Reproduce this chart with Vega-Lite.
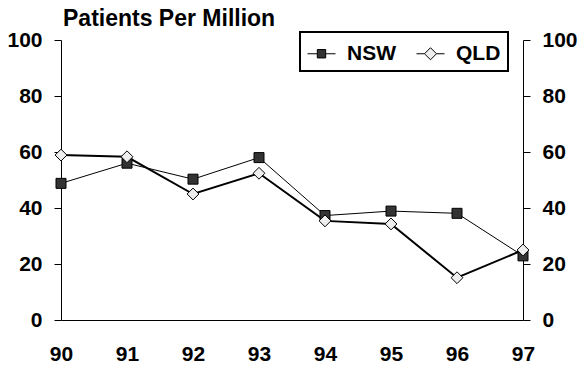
{
  "$schema": "https://vega.github.io/schema/vega-lite/v6.json",
  "width": 462,
  "height": 280,
  "autosize": "none",
  "padding": {"left": 61, "top": 40, "right": 57, "bottom": 47},
  "background": "white",
  "title": {"text": "Patients Per Million", "anchor": "start", "frame": "group", "dx": 2, "offset": -2, "fontSize": 23, "font": "Liberation Sans", "fontWeight": "bold", "color": "black"},
  "config": {
    "view": {"stroke": null},
    "axis": {"domainColor": "black", "tickColor": "black", "labelColor": "black", "labelFont": "Liberation Sans", "labelFontWeight": "bold", "labelFontSize": 21, "grid": false, "title": null, "domainWidth": 1, "tickWidth": 1, "labelFlush": false, "labelOverlap": false}
  },
  "data": {"values": [
    {"year": 90, "series": "NSW", "value": 48.8},
    {"year": 91, "series": "NSW", "value": 56},
    {"year": 92, "series": "NSW", "value": 50.3},
    {"year": 93, "series": "NSW", "value": 58},
    {"year": 94, "series": "NSW", "value": 37.3},
    {"year": 95, "series": "NSW", "value": 38.9},
    {"year": 96, "series": "NSW", "value": 38.1},
    {"year": 97, "series": "NSW", "value": 22.9},
    {"year": 90, "series": "QLD", "value": 58.9},
    {"year": 91, "series": "QLD", "value": 58.3},
    {"year": 92, "series": "QLD", "value": 45},
    {"year": 93, "series": "QLD", "value": 52.4},
    {"year": 94, "series": "QLD", "value": 35.4},
    {"year": 95, "series": "QLD", "value": 34.3},
    {"year": 96, "series": "QLD", "value": 15.1},
    {"year": 97, "series": "QLD", "value": 25}
  ]},
  "layer": [
    {
      "transform": [{"filter": "datum.series === 'NSW'"}],
      "mark": {"type": "line", "color": "black", "strokeWidth": 1},
      "encoding": {
        "x": {"field": "year", "type": "quantitative", "scale": {"domain": [90, 97], "nice": false, "zero": false},
              "axis": {"values": [90, 91, 92, 93, 94, 95, 96, 97], "format": "d", "ticks": false, "labelPadding": 23}},
        "y": {"field": "value", "type": "quantitative", "scale": {"domain": [0, 100], "nice": false},
              "axis": {"orient": "left", "values": [0, 20, 40, 60, 80, 100], "tickSize": 7, "labelPadding": 12}}
      }
    },
    {
      "transform": [{"filter": "datum.series === 'QLD'"}],
      "mark": {"type": "line", "color": "black", "strokeWidth": 2},
      "encoding": {
        "x": {"field": "year", "type": "quantitative"},
        "y": {"field": "value", "type": "quantitative", "axis": null}
      }
    },
    {
      "transform": [{"filter": "datum.series === 'NSW'"}],
      "mark": {"type": "point", "filled": true, "shape": "square", "size": 100, "stroke": "black", "strokeWidth": 1, "opacity": 1},
      "encoding": {
        "x": {"field": "year", "type": "quantitative"},
        "y": {"field": "value", "type": "quantitative",
              "axis": {"orient": "right", "values": [0, 20, 40, 60, 80, 100], "tickSize": 7, "labelPadding": 12}},
        "fill": {"field": "series", "type": "nominal", "scale": {"domain": ["NSW", "QLD"], "range": ["#333333", "#eeeeee"]},
          "legend": {"orient": "none", "legendX": 239, "legendY": -8, "direction": "horizontal", "title": null,
            "strokeColor": "black", "padding": 7, "symbolSize": 784, "labelFontSize": 21, "labelFont": "Liberation Sans",
            "labelFontWeight": "bold", "labelColor": "black", "labelOffset": 11, "columnPadding": 18,
            "symbolStrokeColor": "black", "symbolStrokeWidth": 1, "symbolOpacity": 1,
            "encode": {
              "legend": {"update": {"strokeWidth": {"value": 2}}},
              "symbols": {"update": {"size": {"value": 784}, "shape": [
                {"test": "datum.value === 'NSW'", "value": "M-1,0H-0.3M0.3,0H1M-0.3,-0.3H0.3V0.3H-0.3Z"},
                {"value": "M-1,0H-0.43M0.43,0H1M-0.43,0L0,-0.43L0.43,0L0,0.43Z"}
              ]}}
            }}}
      }
    },
    {
      "transform": [{"filter": "datum.series === 'QLD'"}],
      "mark": {"type": "point", "filled": true, "shape": "diamond", "size": 140, "stroke": "black", "strokeWidth": 1, "opacity": 1},
      "encoding": {
        "x": {"field": "year", "type": "quantitative"},
        "y": {"field": "value", "type": "quantitative", "axis": null},
        "fill": {"field": "series", "type": "nominal"}
      }
    }
  ],
  "resolve": {"axis": {"y": "independent"}}
}
